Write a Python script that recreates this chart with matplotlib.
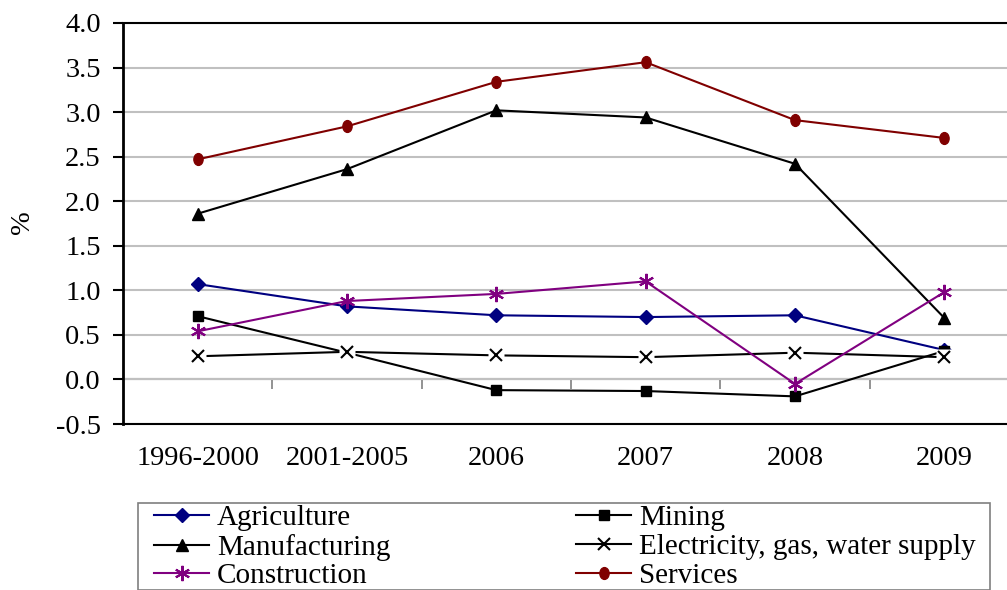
import matplotlib
matplotlib.use("Agg")
import matplotlib.pyplot as plt
import numpy as np
from matplotlib.path import Path
from matplotlib.transforms import Affine2D
from matplotlib.patches import Rectangle

plt.rcParams["font.family"] = ["Liberation Serif", "DejaVu Serif"]
plt.rcParams["axes.unicode_minus"] = False

periods = ["1996-2000", "2001-2005", "2006", "2007", "2008", "2009"]
agriculture = [1.07, 0.82, 0.72, 0.70, 0.72, 0.33]
mining = [0.71, 0.30, -0.12, -0.13, -0.19, 0.32]
manufacturing = [1.86, 2.36, 3.02, 2.94, 2.42, 0.69]
electricity = [0.26, 0.31, 0.27, 0.25, 0.30, 0.25]
construction = [0.54, 0.88, 0.96, 1.10, -0.05, 0.98]
services = [2.47, 2.84, 3.34, 3.56, 2.91, 2.71]
y_ticks = [-0.5, 0.0, 0.5, 1.0, 1.5, 2.0, 2.5, 3.0, 3.5, 4.0]

W, H = 1007, 590
fig = plt.figure(figsize=(W / 100, H / 100), dpi=100)
L, R, T, B = 123, 1019, 23, 424
ax = fig.add_axes([L / W, 1 - B / H, (R - L) / W, (B - T) / H])

x = np.arange(len(periods))
oval = Path(Affine2D().scale(0.78, 1.0).transform(Path.unit_circle().vertices),
            Path.unit_circle().codes)

lw = 1.5
h_agr, = ax.plot(x, agriculture, color="#000080", lw=lw, marker="D", ms=7.5,
                 label="Agriculture", zorder=3)
h_min, = ax.plot(x, mining, color="black", lw=lw, marker="s", ms=7,
                 label="Mining", zorder=3.1)
h_man, = ax.plot(x, manufacturing, color="black", lw=lw, marker="^", ms=9,
                 label="Manufacturing", zorder=3.2)
# electricity: line, white pad behind each cross, then the crosses
ax.plot(x, electricity, color="black", lw=lw, zorder=3.3)
ax.plot(x, electricity, ls="none", marker="s", ms=11, mfc="white", mec="none",
        zorder=3.31)
ax.plot(x, electricity, ls="none", marker="x", ms=9, mew=1.5, color="black",
        zorder=3.32)
h_ele, = ax.plot([], [], color="black", lw=lw, marker="x", ms=9, mew=1.5,
                 label="Electricity, gas, water supply")
h_con, = ax.plot(x, construction, color="#800080", lw=lw, marker=(6, 2, 0),
                 ms=11, mew=1.5, label="Construction", zorder=3.4)
h_ser, = ax.plot(x, services, color="#800000", lw=lw, marker=oval, ms=8.5,
                 label="Services", zorder=3.5)

ax.set_xlim(-0.5, len(periods) - 0.5)
ax.set_ylim(-0.5, 4.0)
ax.set_yticks(y_ticks)
ax.set_yticklabels([f"{v:.1f}" for v in y_ticks])
ax.set_xticks(x)
ax.set_xticklabels(periods)
ax.tick_params(axis="x", length=0, pad=16, labelsize=20.5)
ax.tick_params(axis="y", length=7, width=1.5, direction="out", pad=9,
               labelsize=20.5)

ax.grid(axis="y", color="#c0c0c0", lw=1.5, zorder=0)
ax.set_axisbelow(True)
for s in ax.spines.values():
    s.set_color("black")
    s.set_linewidth(1.5)
ax.spines["left"].set_linewidth(2)

# category axis crossing at zero, with dividers between categories
sec = ax.secondary_xaxis(0, transform=ax.transData)
sec.set_xticks(np.arange(len(periods)) + 0.5)
sec.tick_params(axis="x", length=7.5, width=1.2, direction="out",
                color="#808080", labelbottom=False)
sec.spines["bottom"].set_color("#808080")
sec.spines["bottom"].set_linewidth(1.5)

fig.text(22 / W, 1 - 222 / H, "%", rotation=90, fontsize=20.5,
         ha="center", va="center")

# legend box (runs past the bottom edge)
fig.patches.append(Rectangle((138 / W, 0), (990 - 138) / W, 1 - 503 / H,
                             transform=fig.transFigure, fill=False,
                             ec="#7f7f7f", lw=1.2))
common = dict(frameon=False, fontsize=21, handlelength=1.9,
              handletextpad=0.25, labelspacing=0.08, borderpad=0,
              borderaxespad=0, loc="upper left")
leg1 = fig.legend(handles=[h_agr, h_man, h_con],
                  bbox_to_anchor=(154 / W, 1 - 505 / H), **common)
leg2 = fig.legend(handles=[h_min, h_ele, h_ser],
                  bbox_to_anchor=(576 / W, 1 - 505 / H), **common)

fig.savefig("out.png", dpi=100)
